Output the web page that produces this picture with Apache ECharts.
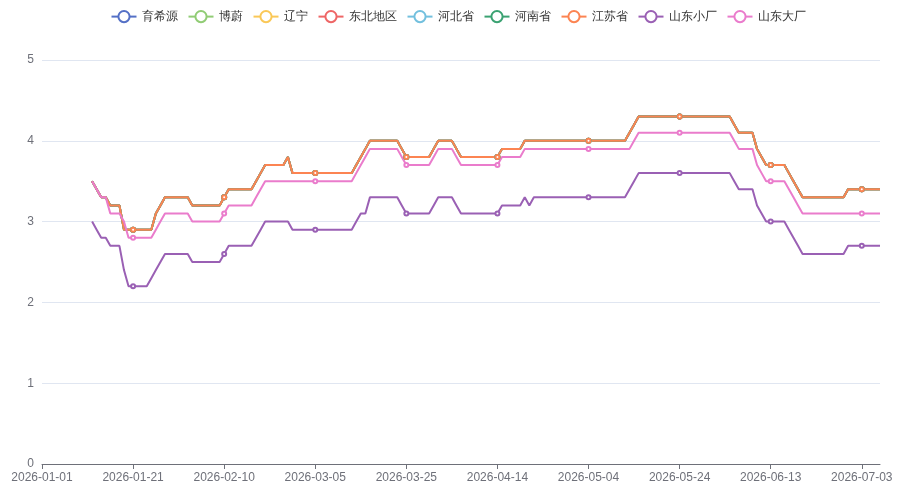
<!DOCTYPE html>
<html>
<head>
<meta charset="utf-8">
<title>价格走势</title>
<script src="https://cdn.jsdelivr.net/npm/echarts@6/dist/echarts.min.js"></script>
<style>
    html, body { margin: 0; padding: 0; background: #fff; }
    #chart-div { width: 916px; height: 500px; }
</style>
</head>
<body>
<div id="chart-div"></div>
<script>
// 日期（春节 02-16 ~ 02-18 无数据）
var dates = [
    '2026-01-01','2026-01-02','2026-01-03','2026-01-04','2026-01-05','2026-01-06','2026-01-07','2026-01-08','2026-01-09','2026-01-10',
    '2026-01-11','2026-01-12','2026-01-13','2026-01-14','2026-01-15','2026-01-16','2026-01-17','2026-01-18','2026-01-19','2026-01-20',
    '2026-01-21','2026-01-22','2026-01-23','2026-01-24','2026-01-25','2026-01-26','2026-01-27','2026-01-28','2026-01-29','2026-01-30',
    '2026-01-31','2026-02-01','2026-02-02','2026-02-03','2026-02-04','2026-02-05','2026-02-06','2026-02-07','2026-02-08','2026-02-09',
    '2026-02-10','2026-02-11','2026-02-12','2026-02-13','2026-02-14','2026-02-15','2026-02-19','2026-02-20','2026-02-21','2026-02-22',
    '2026-02-23','2026-02-24','2026-02-25','2026-02-26','2026-02-27','2026-02-28','2026-03-01','2026-03-02','2026-03-03','2026-03-04',
    '2026-03-05','2026-03-06','2026-03-07','2026-03-08','2026-03-09','2026-03-10','2026-03-11','2026-03-12','2026-03-13','2026-03-14',
    '2026-03-15','2026-03-16','2026-03-17','2026-03-18','2026-03-19','2026-03-20','2026-03-21','2026-03-22','2026-03-23','2026-03-24',
    '2026-03-25','2026-03-26','2026-03-27','2026-03-28','2026-03-29','2026-03-30','2026-03-31','2026-04-01','2026-04-02','2026-04-03',
    '2026-04-04','2026-04-05','2026-04-06','2026-04-07','2026-04-08','2026-04-09','2026-04-10','2026-04-11','2026-04-12','2026-04-13',
    '2026-04-14','2026-04-15','2026-04-16','2026-04-17','2026-04-18','2026-04-19','2026-04-20','2026-04-21','2026-04-22','2026-04-23',
    '2026-04-24','2026-04-25','2026-04-26','2026-04-27','2026-04-28','2026-04-29','2026-04-30','2026-05-01','2026-05-02','2026-05-03',
    '2026-05-04','2026-05-05','2026-05-06','2026-05-07','2026-05-08','2026-05-09','2026-05-10','2026-05-11','2026-05-12','2026-05-13',
    '2026-05-14','2026-05-15','2026-05-16','2026-05-17','2026-05-18','2026-05-19','2026-05-20','2026-05-21','2026-05-22','2026-05-23',
    '2026-05-24','2026-05-25','2026-05-26','2026-05-27','2026-05-28','2026-05-29','2026-05-30','2026-05-31','2026-06-01','2026-06-02',
    '2026-06-03','2026-06-04','2026-06-05','2026-06-06','2026-06-07','2026-06-08','2026-06-09','2026-06-10','2026-06-11','2026-06-12',
    '2026-06-13','2026-06-14','2026-06-15','2026-06-16','2026-06-17','2026-06-18','2026-06-19','2026-06-20','2026-06-21','2026-06-22',
    '2026-06-23','2026-06-24','2026-06-25','2026-06-26','2026-06-27','2026-06-28','2026-06-29','2026-06-30','2026-07-01','2026-07-02',
    '2026-07-03','2026-07-04','2026-07-05','2026-07-06','2026-07-07'
];

var seriesNames = ['育希源', '博蔚', '辽宁', '东北地区', '河北省', '河南省', '江苏省', '山东小厂', '山东大厂'];
var colors = ['#5470c6', '#91cc75', '#fac858', '#ee6666', '#73c0de', '#3ba272', '#fc8452', '#9a60b4', '#ea7ccc'];

// 江苏省（前六个产区与其重合）
var jiangsuData = [
    null,null,null,null,null,null,null,null,null,null,
    null,3.5,3.4,3.3,3.3,3.2,3.2,3.2,2.9,2.9,
    2.9,2.9,2.9,2.9,2.9,3.1,3.2,3.3,3.3,3.3,
    3.3,3.3,3.3,3.2,3.2,3.2,3.2,3.2,3.2,3.2,
    3.3,3.4,3.4,3.4,3.4,3.4,3.4,3.5,3.6,3.7,
    3.7,3.7,3.7,3.7,3.8,3.6,3.6,3.6,3.6,3.6,
    3.6,3.6,3.6,3.6,3.6,3.6,3.6,3.6,3.6,3.7,
    3.8,3.9,4.0,4.0,4.0,4.0,4.0,4.0,4.0,3.9,
    3.8,3.8,3.8,3.8,3.8,3.8,3.9,4.0,4.0,4.0,
    4.0,3.9,3.8,3.8,3.8,3.8,3.8,3.8,3.8,3.8,
    3.8,3.9,3.9,3.9,3.9,3.9,4.0,4.0,4.0,4.0,
    4.0,4.0,4.0,4.0,4.0,4.0,4.0,4.0,4.0,4.0,
    4.0,4.0,4.0,4.0,4.0,4.0,4.0,4.0,4.0,4.1,
    4.2,4.3,4.3,4.3,4.3,4.3,4.3,4.3,4.3,4.3,
    4.3,4.3,4.3,4.3,4.3,4.3,4.3,4.3,4.3,4.3,
    4.3,4.3,4.2,4.1,4.1,4.1,4.1,3.9,3.8,3.7,
    3.7,3.7,3.7,3.7,3.6,3.5,3.4,3.3,3.3,3.3,
    3.3,3.3,3.3,3.3,3.3,3.3,3.3,3.4,3.4,3.4,
    3.4,3.4,3.4,3.4,3.4
];

// 山东小厂
var sdSmallData = [
    null,null,null,null,null,null,null,null,null,null,
    null,3.0,2.9,2.8,2.8,2.7,2.7,2.7,2.4,2.2,
    2.2,2.2,2.2,2.2,2.3,2.4,2.5,2.6,2.6,2.6,
    2.6,2.6,2.6,2.5,2.5,2.5,2.5,2.5,2.5,2.5,
    2.6,2.7,2.7,2.7,2.7,2.7,2.7,2.8,2.9,3.0,
    3.0,3.0,3.0,3.0,3.0,2.9,2.9,2.9,2.9,2.9,
    2.9,2.9,2.9,2.9,2.9,2.9,2.9,2.9,2.9,3.0,
    3.1,3.1,3.3,3.3,3.3,3.3,3.3,3.3,3.3,3.2,
    3.1,3.1,3.1,3.1,3.1,3.1,3.2,3.3,3.3,3.3,
    3.3,3.2,3.1,3.1,3.1,3.1,3.1,3.1,3.1,3.1,
    3.1,3.2,3.2,3.2,3.2,3.2,3.3,3.2,3.3,3.3,
    3.3,3.3,3.3,3.3,3.3,3.3,3.3,3.3,3.3,3.3,
    3.3,3.3,3.3,3.3,3.3,3.3,3.3,3.3,3.3,3.4,
    3.5,3.6,3.6,3.6,3.6,3.6,3.6,3.6,3.6,3.6,
    3.6,3.6,3.6,3.6,3.6,3.6,3.6,3.6,3.6,3.6,
    3.6,3.6,3.5,3.4,3.4,3.4,3.4,3.2,3.1,3.0,
    3.0,3.0,3.0,3.0,2.9,2.8,2.7,2.6,2.6,2.6,
    2.6,2.6,2.6,2.6,2.6,2.6,2.6,2.7,2.7,2.7,
    2.7,2.7,2.7,2.7,2.7
];

// 山东大厂
var sdBigData = [
    null,null,null,null,null,null,null,null,null,null,
    null,3.5,3.4,3.3,3.3,3.1,3.1,3.1,3.0,2.8,
    2.8,2.8,2.8,2.8,2.8,2.9,3.0,3.1,3.1,3.1,
    3.1,3.1,3.1,3.0,3.0,3.0,3.0,3.0,3.0,3.0,
    3.1,3.2,3.2,3.2,3.2,3.2,3.2,3.3,3.4,3.5,
    3.5,3.5,3.5,3.5,3.5,3.5,3.5,3.5,3.5,3.5,
    3.5,3.5,3.5,3.5,3.5,3.5,3.5,3.5,3.5,3.6,
    3.7,3.8,3.9,3.9,3.9,3.9,3.9,3.9,3.9,3.8,
    3.7,3.7,3.7,3.7,3.7,3.7,3.8,3.9,3.9,3.9,
    3.9,3.8,3.7,3.7,3.7,3.7,3.7,3.7,3.7,3.7,
    3.7,3.8,3.8,3.8,3.8,3.8,3.9,3.9,3.9,3.9,
    3.9,3.9,3.9,3.9,3.9,3.9,3.9,3.9,3.9,3.9,
    3.9,3.9,3.9,3.9,3.9,3.9,3.9,3.9,3.9,3.9,
    4.0,4.1,4.1,4.1,4.1,4.1,4.1,4.1,4.1,4.1,
    4.1,4.1,4.1,4.1,4.1,4.1,4.1,4.1,4.1,4.1,
    4.1,4.1,4.0,3.9,3.9,3.9,3.9,3.7,3.6,3.5,
    3.5,3.5,3.5,3.5,3.4,3.3,3.2,3.1,3.1,3.1,
    3.1,3.1,3.1,3.1,3.1,3.1,3.1,3.1,3.1,3.1,
    3.1,3.1,3.1,3.1,3.1
];

var seriesData = [jiangsuData, jiangsuData, jiangsuData, jiangsuData, jiangsuData, jiangsuData,
                  jiangsuData, sdSmallData, sdBigData];

var myChart = echarts.init(document.getElementById('chart-div'));

function initChart(){
    var series = [];
    for (var i = 0; i < seriesNames.length; i++) {
        series.push({
            name: seriesNames[i],
            type: 'line',
            symbol: 'emptyCircle',
            symbolSize: 4,
            lineStyle: { width: 2 },
            data: seriesData[i]
        });
    }
    var chart_option = {
        color: colors,
        animation: false,
        textStyle: { fontFamily: 'sans-serif' },
        legend: {
            top: 5,
            left: 'center',
            itemGap: 10,
            itemWidth: 25,
            itemHeight: 14,
            textStyle: { color: '#333', fontSize: 12 },
            data: seriesNames
        },
        grid: {
            left: 42,
            right: 36,
            top: 60,
            bottom: 36,
            containLabel: false
        },
        xAxis: {
            type: 'category',
            boundaryGap: false,
            data: dates,
            axisLine: { lineStyle: { color: '#6E7079' } },
            axisTick: { interval: 19, lineStyle: { color: '#6E7079' } },
            axisLabel: { interval: 19, color: '#6E7079', fontSize: 12, margin: 8 }
        },
        yAxis: {
            type: 'value',
            min: 0,
            max: 5,
            interval: 1,
            axisLine: { show: false },
            axisTick: { show: false },
            axisLabel: { color: '#6E7079', fontSize: 12, margin: 8 },
            splitLine: { lineStyle: { color: '#E0E6F1' } }
        },
        series: series
    };
    myChart.setOption(chart_option);
}
initChart();
</script>
</body>
</html>
